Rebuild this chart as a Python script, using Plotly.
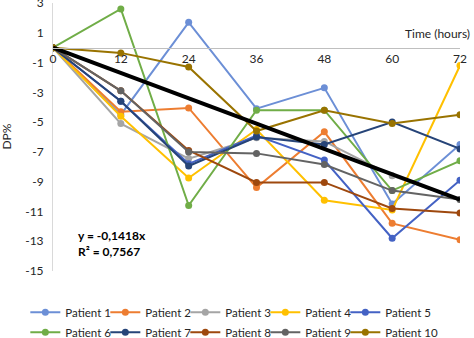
import plotly.graph_objects as go

# Sampling times (hours) and DP% per patient
hours = [0, 12, 24, 36, 48, 60, 72]

patient_1 = [0, -4.5, 1.7, -4.1, -2.7, -10.5, -6.5]
patient_2 = [0, -4.3, -4.05, -9.4, -5.65, -11.8, -12.9]
patient_3 = [0, -5.1, -7.45, -6.05, -6.3, -8.6, -10.2]
patient_4 = [0, -4.6, -8.75, -5.5, -10.25, -10.9, -1.2]
patient_5 = [0, -3.6, -7.8, -5.9, -7.55, -12.8, -8.9]
patient_6 = [0, 2.6, -10.6, -4.2, -4.2, -9.6, -7.6]
patient_7 = [0, -3.6, -7.95, -6.0, -6.5, -5.0, -6.8]
patient_8 = [0, -2.9, -6.9, -9.05, -9.05, -10.8, -11.1]
patient_9 = [0, -2.9, -7.0, -7.1, -7.85, -9.6, -10.2]
patient_10 = [0, -0.35, -1.3, -5.6, -4.2, -5.1, -4.5]

series_names = [f"Patient {i}" for i in range(1, 11)]
series_values = [patient_1, patient_2, patient_3, patient_4, patient_5,
                 patient_6, patient_7, patient_8, patient_9, patient_10]

# Linear fit through the origin
slope = -0.1418
r_squared = 0.7567
trend_x = [0, 72]

y_ticks = [3, 1, -1, -3, -5, -7, -9, -11, -13, -15]
x_ticks = hours

colors = ["#6C8FD6", "#ED7D31", "#A5A5A5", "#FFC000", "#4462C4",
          "#70AD47", "#264478", "#9E480E", "#636363", "#997300"]

FONT = "Lato, 'Open Sans', sans-serif"

fig = go.Figure()

for i, (name, vals, col) in enumerate(zip(series_names, series_values, colors)):
    # two legend rows of five; the last entry in a row gets room for its label
    fig.add_trace(go.Scatter(
        x=hours, y=vals, name=name, mode="lines+markers",
        line=dict(color=col, width=2),
        marker=dict(color=col, size=7),
        legend="legend" if i < 5 else "legend2",
        legendwidth=60 if i % 5 == 4 else None,
    ))

fig.add_trace(go.Scatter(
    x=trend_x, y=[slope * x for x in trend_x], mode="lines",
    line=dict(color="black", width=4), showlegend=False, hoverinfo="skip",
))

legend_style = dict(
    orientation="h", x=-0.068, xanchor="left", yanchor="top",
    font=dict(size=11.5, color="#262626"),
    itemwidth=30, entrywidth=35, entrywidthmode="pixels",
    traceorder="normal", bgcolor="rgba(0,0,0,0)",
)

fig.update_layout(
    width=474, height=338,
    margin=dict(l=53, r=14, t=3, b=67, autoexpand=False),
    paper_bgcolor="white", plot_bgcolor="white",
    font=dict(family=FONT, size=12, color="#262626"),
    showlegend=True,
    legend=dict(legend_style, y=-0.10),
    legend2=dict(legend_style, y=-0.174),
    xaxis=dict(
        range=[0, 72], tickvals=x_ticks, ticktext=[str(v) for v in x_ticks],
        anchor="free", position=15 / 18,
        showline=True, linecolor="#BFBFBF", linewidth=1,
        showgrid=False, zeroline=False, ticks="",
        tickfont=dict(size=12, color="#262626"),
    ),
    yaxis=dict(
        range=[-15, 3], tickvals=y_ticks, ticktext=[str(v) for v in y_ticks],
        showline=True, linecolor="#D9D9D9", linewidth=1,
        showgrid=False, zeroline=False, ticks="",
        ticklabelstandoff=6, ticklabeloverflow="allow",
        tickfont=dict(size=12, color="#262626"),
    ),
    annotations=[
        dict(text="Time (hours)", xref="paper", yref="y", x=1.03, y=0.3,
             xanchor="right", yanchor="bottom", showarrow=False,
             font=dict(size=12, color="#262626")),
        dict(text="DP%", xref="paper", yref="paper", x=-0.14, y=0.5,
             xanchor="left", yanchor="middle", textangle=-90, showarrow=False,
             font=dict(size=12, color="#262626")),
        dict(text=f"<b>y = {str(slope).replace('.', ',')}x</b>", xref="x", yref="y",
             x=4.1, y=-12.6, xanchor="left", yanchor="middle", showarrow=False,
             font=dict(size=12, color="#000000")),
        dict(text=f"<b>R² = {str(r_squared).replace('.', ',')}</b>", xref="x", yref="y",
             x=4.1, y=-13.7, xanchor="left", yanchor="middle", showarrow=False,
             font=dict(size=12, color="#000000")),
    ],
)

fig.write_html("out.html")
